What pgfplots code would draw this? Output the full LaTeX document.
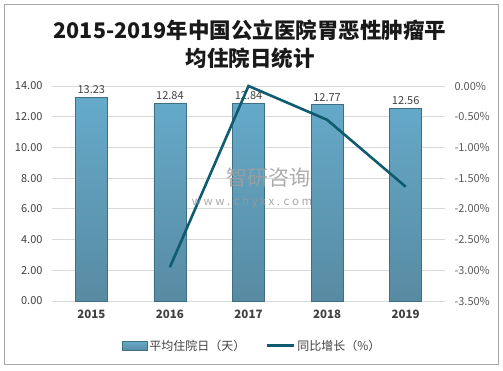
\documentclass[border=0pt]{standalone}
\usepackage{pgfplots}
\pgfplotsset{compat=1.18}
\usepackage{fontspec}
\setmainfont{Noto Sans CJK SC}
\newfontfamily\titlefont{Noto Sans CJK SC}
\definecolor{barTop}{HTML}{65AACA}
\definecolor{barBot}{HTML}{588BA2}
\definecolor{barEdge}{HTML}{3E6F84}
\definecolor{lineC}{HTML}{0F5B6F}
\definecolor{gridC}{HTML}{D9D9D9}
\definecolor{txtC}{HTML}{404040}
\definecolor{rtxt}{HTML}{595959}
\begin{document}
\begin{tikzpicture}[x=1pt,y=1pt]
\useasboundingbox (0,0) rectangle (503,370);
\draw[draw=gray!70, line width=1pt] (4.5,5.5) rectangle (498.5,365.5);
\node[font=\titlefont\fontsize{21.5}{28}\selectfont\bfseries, align=center, text=black!90] at (250,326) {2015-2019年中国公立医院胃恶性肿瘤平\\均住院日统计};
\begin{axis}[
  at={(52pt,69pt)}, anchor=south west,
  scale only axis, width=393pt, height=215pt,
  xmin=-0.5, xmax=4.5, ymin=0, ymax=14,
  ytick={0,2,...,14},
  xtick={0,1,2,3,4},
  xticklabels={2015,2016,2017,2018,2019},
  x tick label style={font=\fontsize{11.5}{13}\selectfont\bfseries, text=txtC, yshift=-5pt},
  y tick label style={font=\fontsize{11}{13}\selectfont, text=txtC},
  yticklabel={\pgfmathprintnumber[fixed,fixed zerofill,precision=2]{\tick}},
  /pgf/number format/assume math mode=true,
  axis line style={draw=none},
  major tick length=0pt,
  ymajorgrids, grid style={gridC, line width=0.8pt},
  yticklabel style={xshift=-6pt},
  nodes near coords,
  nodes near coords style={font=\fontsize{11}{13}\selectfont, text=txtC, /pgf/number format/fixed, /pgf/number format/fixed zerofill, /pgf/number format/precision=2},
  clip=false,
]
\addplot[ybar, bar width=32pt, top color=barTop, bottom color=barBot, draw=barEdge, line width=0.8pt]
  coordinates {(0,13.23) (1,12.84) (2,12.84) (3,12.77) (4,12.56)};
\end{axis}
\begin{axis}[
  at={(52pt,69pt)}, anchor=south west,
  scale only axis, width=393pt, height=215pt,
  xmin=-0.5, xmax=4.5, ymin=-3.5, ymax=0,
  axis y line*=right, axis x line=none,
  axis line style={draw=none},
  ytick={-3.5,-3,...,0},
  major tick length=0pt,
  yticklabel={\pgfmathprintnumber[fixed,fixed zerofill,precision=2]{\tick}\%},
  /pgf/number format/assume math mode=true,
  y tick label style={font=\fontsize{11}{13}\selectfont, text=rtxt, xshift=6pt},
  legend columns=2,
  legend style={at={(0.509,-0.209)}, anchor=center, draw=none, fill=none,
    font=\fontsize{12}{13}\selectfont, text=txtC,
    /tikz/every even column/.append style={column sep=18pt}},
  legend cell align=left,
  clip=false,
]
\addlegendimage{legend image code/.code={\path[top color=barTop, bottom color=barBot, draw=barEdge, line width=0.8pt] (0pt,-4.5pt) rectangle (25pt,4.5pt);}}
\addlegendentry{平均住院日（天）}
\addplot[lineC, line width=2.6pt, mark=none, legend image code/.code={\draw[lineC, line width=3pt] (0pt,0pt) -- (27pt,0pt);}] coordinates {(1,-2.95) (2,0.00) (3,-0.55) (4,-1.64)};
\addlegendentry{同比增长（\%）}
\end{axis}
% watermark
\node[font=\fontsize{21}{22}\selectfont, text=gray!75, opacity=0.85] at (268,192) {智研咨询};
\node[font=\fontsize{11.5}{13}\selectfont, text=gray!80, opacity=0.85] at (252,168) {w w w . c h y x x . c o m};
\end{tikzpicture}
\end{document}
